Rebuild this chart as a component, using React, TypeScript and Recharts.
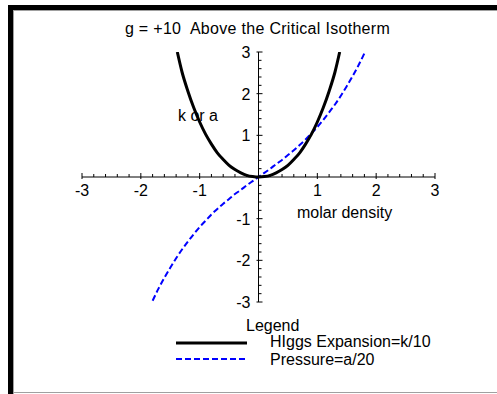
import React from 'react';
import { LineChart, Line, XAxis, YAxis, ReferenceLine, Legend } from 'recharts';

// values
const HIGGS_X = [-1.38, -1.3, -1.2, -1.1, -1.0, -0.9, -0.8, -0.7, -0.6, -0.5, -0.4, -0.3, -0.2, -0.1, 0,
  0.1, 0.2, 0.3, 0.4, 0.5, 0.6, 0.7, 0.8, 0.9, 1.0, 1.1, 1.2, 1.3, 1.38];
const HIGGS_Y = [3.0, 2.52, 2.06, 1.66, 1.32, 1.03, 0.79, 0.58, 0.42, 0.28, 0.18, 0.1, 0.04, 0.01, 0,
  0.01, 0.04, 0.1, 0.18, 0.28, 0.42, 0.58, 0.79, 1.03, 1.32, 1.66, 2.06, 2.52, 3.0];

const PRESSURE_X = [-1.8, -1.7, -1.6, -1.5, -1.4, -1.3, -1.2, -1.1, -1.0, -0.9, -0.8, -0.7, -0.6, -0.5, -0.4, -0.3, -0.2, -0.1, 0,
  0.1, 0.2, 0.3, 0.4, 0.5, 0.6, 0.7, 0.8, 0.9, 1.0, 1.1, 1.2, 1.3, 1.4, 1.5, 1.6, 1.7, 1.8];
const PRESSURE_Y = [-2.97, -2.68, -2.42, -2.18, -1.95, -1.74, -1.55, -1.37, -1.2, -1.05, -0.9, -0.77, -0.64, -0.53, -0.41, -0.31, -0.2, -0.1, 0,
  0.1, 0.2, 0.31, 0.41, 0.53, 0.64, 0.77, 0.9, 1.05, 1.2, 1.37, 1.55, 1.74, 1.95, 2.18, 2.42, 2.68, 2.97];

const SERIES_NAMES = ['HIggs Expansion=k/10', 'Pressure=a/20'];
const TITLE = 'g = +10  Above the Critical Isotherm';
const Y_LABEL = 'k or a';
const X_LABEL = 'molar density';

const higgsData = HIGGS_X.map((x, i) => ({ x, y: HIGGS_Y[i] }));
const pressureData = PRESSURE_X.map((x, i) => ({ x, y: PRESSURE_Y[i] }));

const W = 497;
const H = 394;
// axes take 1px each (a 0px axis draws nothing)
const M = { top: 52, right: 62, bottom: 91, left: 81 };
const PLOT_L = M.left + 1;
const PLOT_B = H - M.bottom - 1;
const ZERO_X = PLOT_L + (W - M.right - PLOT_L) / 2;
const ZERO_Y = M.top + (PLOT_B - M.top) / 2;
const FONT = '"Liberation Sans", Arial, sans-serif';

// major ticks every 1, minor every 0.2
const TICKS = Array.from({ length: 31 }, (_, i) => Math.round((-3 + i * 0.2) * 10) / 10);

const XTick = (props: any) => {
  const { x, payload } = props;
  const v = payload.value;
  const major = Number.isInteger(v);
  return (
    <g>
      <line x1={x} x2={x} y1={ZERO_Y - (major ? 4 : 3)} y2={ZERO_Y + (major ? 2 : 0)} stroke="#000" />
      {major && v !== 0 && (
        <text x={x} y={ZERO_Y + 19} textAnchor="middle" fontSize={16} fontFamily={FONT} fill="#000">
          {v}
        </text>
      )}
    </g>
  );
};

const YTick = (props: any) => {
  const { y, payload } = props;
  const v = payload.value;
  const major = Number.isInteger(v);
  return (
    <g>
      <line x1={ZERO_X - (major ? 2 : 0)} x2={ZERO_X + (major ? 4 : 3)} y1={y} y2={y} stroke="#000" />
      {major && v !== 0 && (
        <text x={ZERO_X - 8} y={y + 6} textAnchor="end" fontSize={16} fontFamily={FONT} fill="#000">
          {v}
        </text>
      )}
    </g>
  );
};

const renderLegend = (props: any) => {
  const { payload } = props;
  return (
    <svg width={290} height={60} style={{ display: 'block' }}>
      <text x={76} y={15} fontSize={16} fontFamily={FONT} fill="#000">Legend</text>
      {payload.map((entry: any, i: number) => (
        <g key={`item-${i}`}>
          <line
            x1={6}
            x2={77}
            y1={27 + i * 16}
            y2={27 + i * 16}
            stroke={entry.color}
            strokeWidth={i === 0 ? 3 : 2}
            strokeDasharray={i === 0 ? undefined : '6 3'}
          />
          <text x={100} y={31 + i * 18} fontSize={16} fontFamily={FONT} fill="#000">
            {entry.value}
          </text>
        </g>
      ))}
    </svg>
  );
};

export default function App() {
  return (
    <div style={{ position: 'absolute', left: 0, top: 0, width: W, height: H, background: '#fff', fontFamily: FONT }}>
      <LineChart width={W} height={H} margin={M}>
        <XAxis
          type="number"
          dataKey="x"
          domain={[-3, 3]}
          ticks={TICKS}
          interval={0}
          axisLine={false}
          tickLine={false}
          tick={XTick}
          height={1}
          allowDataOverflow
        />
        <YAxis
          type="number"
          domain={[-3, 3]}
          ticks={TICKS}
          interval={0}
          axisLine={false}
          tickLine={false}
          tick={YTick}
          width={1}
          allowDataOverflow
        />
        <ReferenceLine x={0} stroke="#000" />
        <ReferenceLine y={0} stroke="#000" />
        <Line
          data={pressureData}
          dataKey="y"
          name={SERIES_NAMES[1]}
          type="monotone"
          stroke="#0000ff"
          strokeWidth={2}
          strokeDasharray="6 3"
          dot={false}
          isAnimationActive={false}
        />
        <Line
          data={higgsData}
          dataKey="y"
          name={SERIES_NAMES[0]}
          type="monotone"
          stroke="#000"
          strokeWidth={3}
          dot={false}
          isAnimationActive={false}
        />
        <Legend
          layout="vertical"
          align="center"
          verticalAlign="middle"
          content={renderLegend}
          payload={[
            { value: SERIES_NAMES[0], type: 'line', color: '#000' },
            { value: SERIES_NAMES[1], type: 'line', color: '#0000ff' },
          ]}
          wrapperStyle={{ left: 170, top: 316, width: 290, height: 60 }}
        />
      </LineChart>

      <div style={{ position: 'absolute', left: 0, width: 515, top: 21, textAlign: 'center', fontSize: 16, lineHeight: '16px', whiteSpace: 'pre', letterSpacing: 0.3, color: '#000' }}>
        {TITLE}
      </div>
      <div style={{ position: 'absolute', left: 178, top: 108, fontSize: 16, lineHeight: '16px', color: '#000' }}>
        {Y_LABEL}
      </div>
      <div style={{ position: 'absolute', left: 297, top: 205, fontSize: 16, lineHeight: '16px', color: '#000' }}>
        {X_LABEL}
      </div>

      {/* frame */}
      <div style={{ position: 'absolute', left: 8, top: 5, width: W - 8, height: 5, background: '#000' }} />
      <div style={{ position: 'absolute', left: 8, top: 5, width: 5, height: H - 5, background: '#000' }} />
      <div style={{ position: 'absolute', left: 13, top: 10, width: W - 13, height: 1, background: '#a0a0a0' }} />
      <div style={{ position: 'absolute', left: 13, top: 10, width: 1, height: H - 10, background: '#a0a0a0' }} />
      <div style={{ position: 'absolute', left: 13, top: 392, width: W - 13, height: 1, background: '#a0a0a0' }} />
    </div>
  );
}
